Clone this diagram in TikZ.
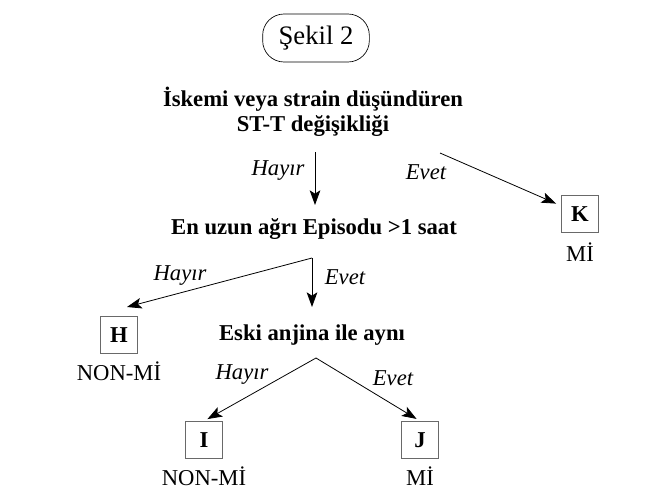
\documentclass[tikz,border=0pt]{standalone}
\usepackage{fontspec}
\setmainfont{Liberation Serif}
\usepackage{xcolor}
\usepackage{tikz}
\usetikzlibrary{positioning, arrows.meta}
\definecolor{trInk}{RGB}{0, 0, 0}
\definecolor{trGray}{RGB}{105, 105, 105}
\tikzset{
    base/.style={
        font=\fontsize{17}{17}\selectfont,
        align=center,
        text=trInk
    },
    title/.style={
        base,
        font=\fontsize{20}{20}\selectfont,
        rectangle,
        rounded corners=16pt,
        draw=trInk,
        line width=0.5pt,
        minimum width=80pt,
        minimum height=36pt
    },
    question/.style={
        base,
        font=\fontsize{17}{19}\selectfont\bfseries,
        inner sep=1pt
    },
    outcome/.style={
        base,
        font=\fontsize{17}{17}\selectfont\bfseries,
        rectangle,
        draw=trGray,
        line width=0.5pt,
        minimum size=28pt,
        inner sep=0pt
    },
    verdict/.style={
        base,
        inner sep=1pt
    },
    answer/.style={
        base,
        font=\fontsize{17}{17}\selectfont\itshape,
        inner sep=1pt
    },
    flow/.style={
        -{Stealth[length=11pt, width=8pt, inset=2.5pt]},
        line width=0.6pt,
        color=trInk
    }
}

\begin{document}
\begin{tikzpicture}[x=0.75pt, y=-0.75pt]
  \useasboundingbox (0,0) rectangle (659,492);

  \node[title] (fig) at (316,38) {Şekil 2};

  \node[question] (ischemia) at (313,112) {İskemi veya strain düşündüren\\ST-T değişikliği};
  \node[question] (episode) at (314,229) {En uzun ağrı Episodu >1 saat};
  \node[question] (angina) at (312,335) {Eski anjina ile aynı};

  \node[outcome,label={[verdict,name=kMi,label distance=6pt]below:Mİ}] (k) at (580,214) {K};
  \node[outcome,label={[verdict,name=hMi,label distance=5pt]below:NON-Mİ}] (h) at (119,335) {H};
  \node[outcome,label={[verdict,name=iMi,label distance=5pt]below:NON-Mİ}] (i) at (204,440) {I};
  \node[outcome,label={[verdict,name=jMi,label distance=5pt]below:Mİ}] (j) at (420,440) {J};

  \node[answer] (no1) at (278,171) {Hayır};
  \node[answer] (yes1) at (426,172) {Evet};
  \node[answer] (no2) at (180,276) {Hayır};
  \node[answer] (yes2) at (345,277) {Evet};
  \node[answer] (no3) at (242,375) {Hayır};
  \node[answer] (yes3) at (393,378) {Evet};

  \coordinate (ischemiaFoot) at (315,152);
  \coordinate (episodeHead) at (315,205);
  \coordinate (ischemiaYes) at (440,153);
  \coordinate (episodeFork) at (312,258);
  \coordinate (hHead) at (127,307);
  \coordinate (anginaHead) at (312,307);
  \coordinate (anginaFork) at (316,358);

  \draw[flow] (ischemiaFoot) -- (episodeHead);
  \draw[flow,shorten >=4pt] (ischemiaYes) -- (k);
  \draw[flow] (episodeFork) -- (hHead);
  \draw[flow] (episodeFork) -- (anginaHead);
  \draw[flow,shorten >=3pt] (anginaFork) -- (i.north);
  \draw[flow,shorten >=3pt] (anginaFork) -- (j.north);
\end{tikzpicture}
\end{document}
